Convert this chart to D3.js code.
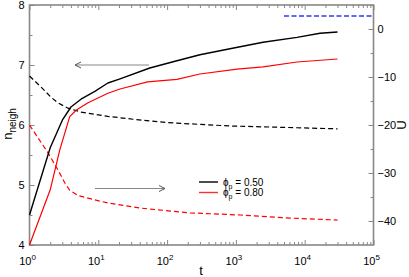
<!DOCTYPE html>
<html>
<head>
<meta charset="utf-8">
<script src="https://cdn.jsdelivr.net/npm/d3@7"></script>
<style>
body { margin: 0; background: #fff; }
svg { font-family: "Liberation Sans", Arial, sans-serif; }
</style>
</head>
<body>
<svg width="409" height="277"></svg>
<script>
// n_neigh, phi_p = 0.50 (solid black)
var tBlack = [1, 2, 3, 4, 5.6, 8.9, 13.8, 20.7, 56, 139, 300, 820, 2480, 7730, 16700, 30000];
var nBlack = [4.5, 5.62, 6.08, 6.30, 6.43, 6.56, 6.70, 6.77, 6.95, 7.07, 7.17, 7.27, 7.38, 7.46, 7.53, 7.55];
// n_neigh, phi_p = 0.80 (solid red)
var tRed = [1, 2, 2.75, 3.84, 4.8, 7.1, 13.8, 20.7, 52, 139, 300, 1040, 2480, 7730, 30000];
var nRed = [4.0, 4.92, 5.58, 6.14, 6.25, 6.37, 6.53, 6.6, 6.72, 6.76, 6.85, 6.93, 6.97, 7.05, 7.1];
// U, phi_p = 0.50 (dashed black)
var tUBlack = [1, 1.5, 2.05, 2.6, 3.63, 5.6, 13.8, 32, 100, 800, 5000, 30000];
var uBlack = [-9.8, -12.2, -14.2, -15.4, -16.5, -17.3, -18.2, -18.8, -19.5, -20.2, -20.5, -20.8];
// U, phi_p = 0.80 (dashed red)
var tURed = [1, 1.86, 2.6, 3.3, 3.84, 5.1, 8.9, 13.8, 40, 215, 1150, 6200, 30000];
var uRed = [-20, -25.8, -29.4, -32.2, -33.6, -34.7, -35.6, -36.25, -37.3, -38.3, -38.75, -39.4, -39.8];
// reference level (dashed blue)
var tBlue = [5000, 100000];
var uBlue = [2.7, 2.7];

var xTicks = [1, 10, 100, 1000, 10000, 100000];
var xExp = ["0", "1", "2", "3", "4", "5"];
var nTicks = [4, 5, 6, 7, 8];
var uTicks = [0, -10, -20, -30, -40];
var legendLabels = ["0.50", "0.80"];

var svg = d3.select("svg");
var pLeft = 29.5, pRight = 373.5, pTop = 5, pBottom = 245;
var x = d3.scaleLog().domain([1, 1e5]).range([pLeft, pRight]);
var yN = d3.scaleLinear().domain([4, 8]).range([pBottom, pTop]);
var yU = d3.scaleLinear().domain([-45, 5]).range([pBottom, pTop]);
var axisColor = "#888";

// minor ticks for log axis
var xMinor = [];
for (var d = 1; d < 1e5; d *= 10) {
    for (var k = 2; k < 10; k++) xMinor.push(d * k);
}

function styleAxis(g) {
    g.select(".domain").remove();
    g.selectAll("line").attr("stroke", axisColor).attr("stroke-width", 1);
    g.selectAll("text").attr("fill", "#000").style("font-size", "11px");
}

// bottom & top
svg.append("g").attr("transform", "translate(0," + pBottom + ")")
    .call(d3.axisBottom(x).tickValues(xTicks).tickSize(-5).tickFormat(""))
    .call(styleAxis);
svg.append("g").attr("transform", "translate(0," + pBottom + ")")
    .call(d3.axisBottom(x).tickValues(xMinor).tickSize(-3).tickFormat(""))
    .call(styleAxis);
svg.append("g").attr("transform", "translate(0," + pTop + ")")
    .call(d3.axisTop(x).tickValues(xTicks).tickSize(-5).tickFormat(""))
    .call(styleAxis);
svg.append("g").attr("transform", "translate(0," + pTop + ")")
    .call(d3.axisTop(x).tickValues(xMinor).tickSize(-3).tickFormat(""))
    .call(styleAxis);

// left
svg.append("g").attr("transform", "translate(" + pLeft + ",0)")
    .call(d3.axisLeft(yN).tickValues(nTicks).tickSize(-5).tickPadding(5).tickFormat(d3.format("d")))
    .call(styleAxis);
svg.append("g").attr("transform", "translate(" + pLeft + ",0)")
    .call(d3.axisLeft(yN).tickValues([4.5, 5.5, 6.5, 7.5]).tickSize(-3).tickFormat(""))
    .call(styleAxis);

// right
svg.append("g").attr("transform", "translate(" + pRight + ",0)")
    .call(d3.axisRight(yU).tickValues(uTicks).tickSize(-5).tickPadding(4).tickFormat(d3.format("d")))
    .call(styleAxis);
svg.append("g").attr("transform", "translate(" + pRight + ",0)")
    .call(d3.axisRight(yU).tickValues([5, -5, -15, -25, -35]).tickSize(-3).tickFormat(""))
    .call(styleAxis);

// frame
svg.append("rect")
    .attr("x", pLeft).attr("y", pTop)
    .attr("width", pRight - pLeft).attr("height", pBottom - pTop)
    .attr("fill", "none").attr("stroke", axisColor).attr("stroke-width", 1.6);

// x tick labels with superscripts
var xl = svg.append("g").selectAll("text").data(xTicks).enter().append("text")
    .attr("x", function (d) { return x(d) - 2; })
    .attr("y", 265)
    .attr("text-anchor", "middle")
    .style("font-size", "11px");
xl.append("tspan").text("10");
xl.append("tspan").attr("dy", -5).style("font-size", "8px").text(function (d, i) { return xExp[i]; });

// axis titles
svg.append("text").attr("x", 201).attr("y", 275).attr("text-anchor", "middle")
    .style("font-size", "13px").text("t");
var yl = svg.append("text").attr("transform", "translate(12,124) rotate(-90)")
    .attr("text-anchor", "middle");
yl.append("tspan").style("font-size", "13px").text("n");
yl.append("tspan").attr("dy", 4).style("font-size", "10px").text("neigh");
svg.append("text").attr("transform", "translate(406,125) rotate(-90)")
    .attr("text-anchor", "middle").style("font-size", "13px").text("U");

function series(ts, vs, yScale, color, width, dash) {
    var line = d3.line()
        .x(function (d) { return x(d[0]); })
        .y(function (d) { return yScale(d[1]); });
    svg.append("path")
        .datum(d3.zip(ts, vs))
        .attr("d", line)
        .attr("fill", "none")
        .attr("stroke", color)
        .attr("stroke-width", width)
        .attr("stroke-linejoin", "round")
        .attr("stroke-dasharray", dash);
}

series(tUBlack, uBlack, yU, "#000", 1.2, "5,3");
series(tURed, uRed, yU, "#f00", 1.2, "5,3");
series(tBlue, uBlue, yU, "#3333ff", 1.4, "5,2.5");
series(tBlack, nBlack, yN, "#000", 1.4, null);
series(tRed, nRed, yN, "#f00", 1.2, null);

// arrows
function arrow(x1, x2, yy) {
    svg.append("line").attr("x1", x1).attr("x2", x2).attr("y1", yy).attr("y2", yy)
        .attr("stroke", "#888").attr("stroke-width", 1.2);
    var dir = x2 > x1 ? -1 : 1;
    svg.append("path")
        .attr("d", "M" + (x2 + dir * 6) + "," + (yy - 3) + "L" + x2 + "," + yy + "L" + (x2 + dir * 6) + "," + (yy + 3))
        .attr("fill", "none").attr("stroke", "#555").attr("stroke-width", 1);
}
arrow(149, 75, yN(7));
arrow(95, 165, 188.5);

// legend
var legColors = ["#000", "#ff3030"];
legendLabels.forEach(function (lab, i) {
    var yy = 182 + i * 10.5;
    svg.append("line").attr("x1", 199).attr("x2", 218).attr("y1", yy).attr("y2", yy)
        .attr("stroke", legColors[i]).attr("stroke-width", 1.4);
    var t = svg.append("text").attr("x", 223).attr("y", yy + 3.5).style("font-size", "10px");
    t.append("tspan").text("\u03D5");
    t.append("tspan").attr("dy", 3).style("font-size", "7px").text("p");
    t.append("tspan").attr("dy", -3).text(" = " + lab);
});
</script>
</body>
</html>
